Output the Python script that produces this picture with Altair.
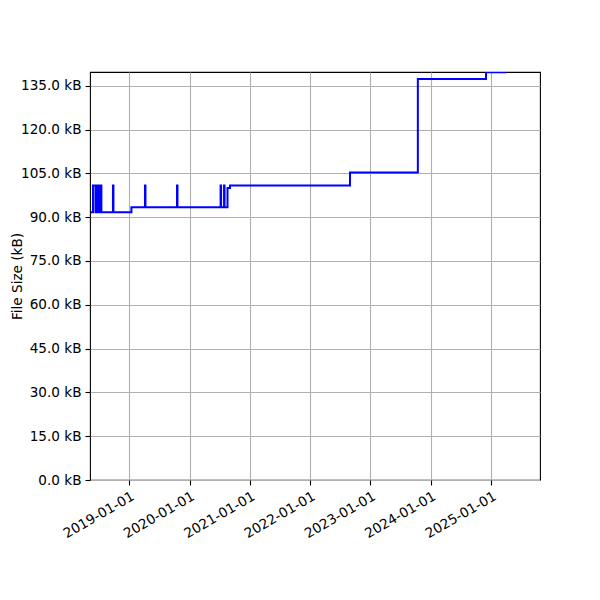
import altair as alt
import pandas as pd

dates = [
    "2018-05-14", "2018-05-26", "2018-06-10", "2018-06-16", "2018-06-22",
    "2018-06-28", "2018-07-04", "2018-07-10", "2018-07-16",
    "2018-09-24", "2018-09-27",
    "2019-01-14",
    "2019-04-06", "2019-04-09",
    "2019-10-17", "2019-10-20",
    "2020-07-07", "2020-07-10",
    "2020-07-28", "2020-07-31",
    "2020-08-18", "2020-09-02",
    "2022-08-30", "2023-10-15", "2024-12-01", "2025-04-02",
]
sizes_kb = [
    91.7, 100.8, 91.7, 100.8, 91.7,
    100.8, 91.7, 100.8, 91.7,
    100.8, 91.7,
    93.4,
    100.8, 93.4,
    100.8, 93.4,
    100.8, 93.4,
    100.8, 93.4,
    100.0, 100.8,
    105.3, 137.3, 139.6, 139.6,
]

x_domain = ["2018-05-08", "2025-10-24"]
y_max = 139.7
y_ticks = [0, 15, 30, 45, 60, 75, 90, 105, 120, 135]
x_ticks = ["2019-01-01", "2020-01-01", "2021-01-01", "2022-01-01",
           "2023-01-01", "2024-01-01", "2025-01-01"]

df = pd.DataFrame({"date": pd.to_datetime(dates), "size": sizes_kb})

font = "DejaVu Sans"
fs = 13.6

axis_cfg = alt.AxisConfig(
    labelFont=font,
    labelFontSize=fs,
    labelColor="black",
    titleFont=font,
    titleFontSize=fs,
    titleFontWeight="normal",
    titleColor="black",
    tickColor="black",
    tickSize=5,
    tickWidth=1.1,
    labelPadding=4,
    domain=False,
    gridColor="#b0b0b0",
    gridWidth=1.1,
    gridOpacity=1,
    labelFlush=False,
    labelOverlap=False,
)

chart = alt.Chart(df).mark_line(
    interpolate="step-after", color="#0000ff", strokeWidth=2, clip=True
).encode(
    x=alt.X(
        "date:T",
        scale=alt.Scale(domain=x_domain),
        axis=alt.Axis(
            values=[alt.DateTime(year=int(t[:4]), month=1, date=1) for t in x_ticks],
            format="%Y-%m-%d",
            labelAngle=-30,
            labelAlign="right",
            labelBaseline="top",
            title=None,
            grid=True,
        ),
    ),
    y=alt.Y(
        "size:Q",
        scale=alt.Scale(domain=[0, y_max], nice=False, zero=True),
        axis=alt.Axis(
            values=y_ticks,
            labelExpr="format(datum.value, '.1f') + ' kB'",
            title="File Size (kB)",
            titleX=-73,
            titleY=204,
            titleAngle=-90,
            titleAlign="center",
            titleBaseline="middle",
            grid=True,
        ),
    ),
).properties(
    width=450,
    height=408,
    autosize=alt.AutoSizeParams(type="none"),
    padding={"left": 82, "top": 64, "right": 52, "bottom": 112},
).configure(
    background="white",
    axis=axis_cfg,
    view=alt.ViewConfig(stroke="black", strokeWidth=1.1),
)

chart.save("out.html", embed_options={"renderer": "svg", "actions": False})
